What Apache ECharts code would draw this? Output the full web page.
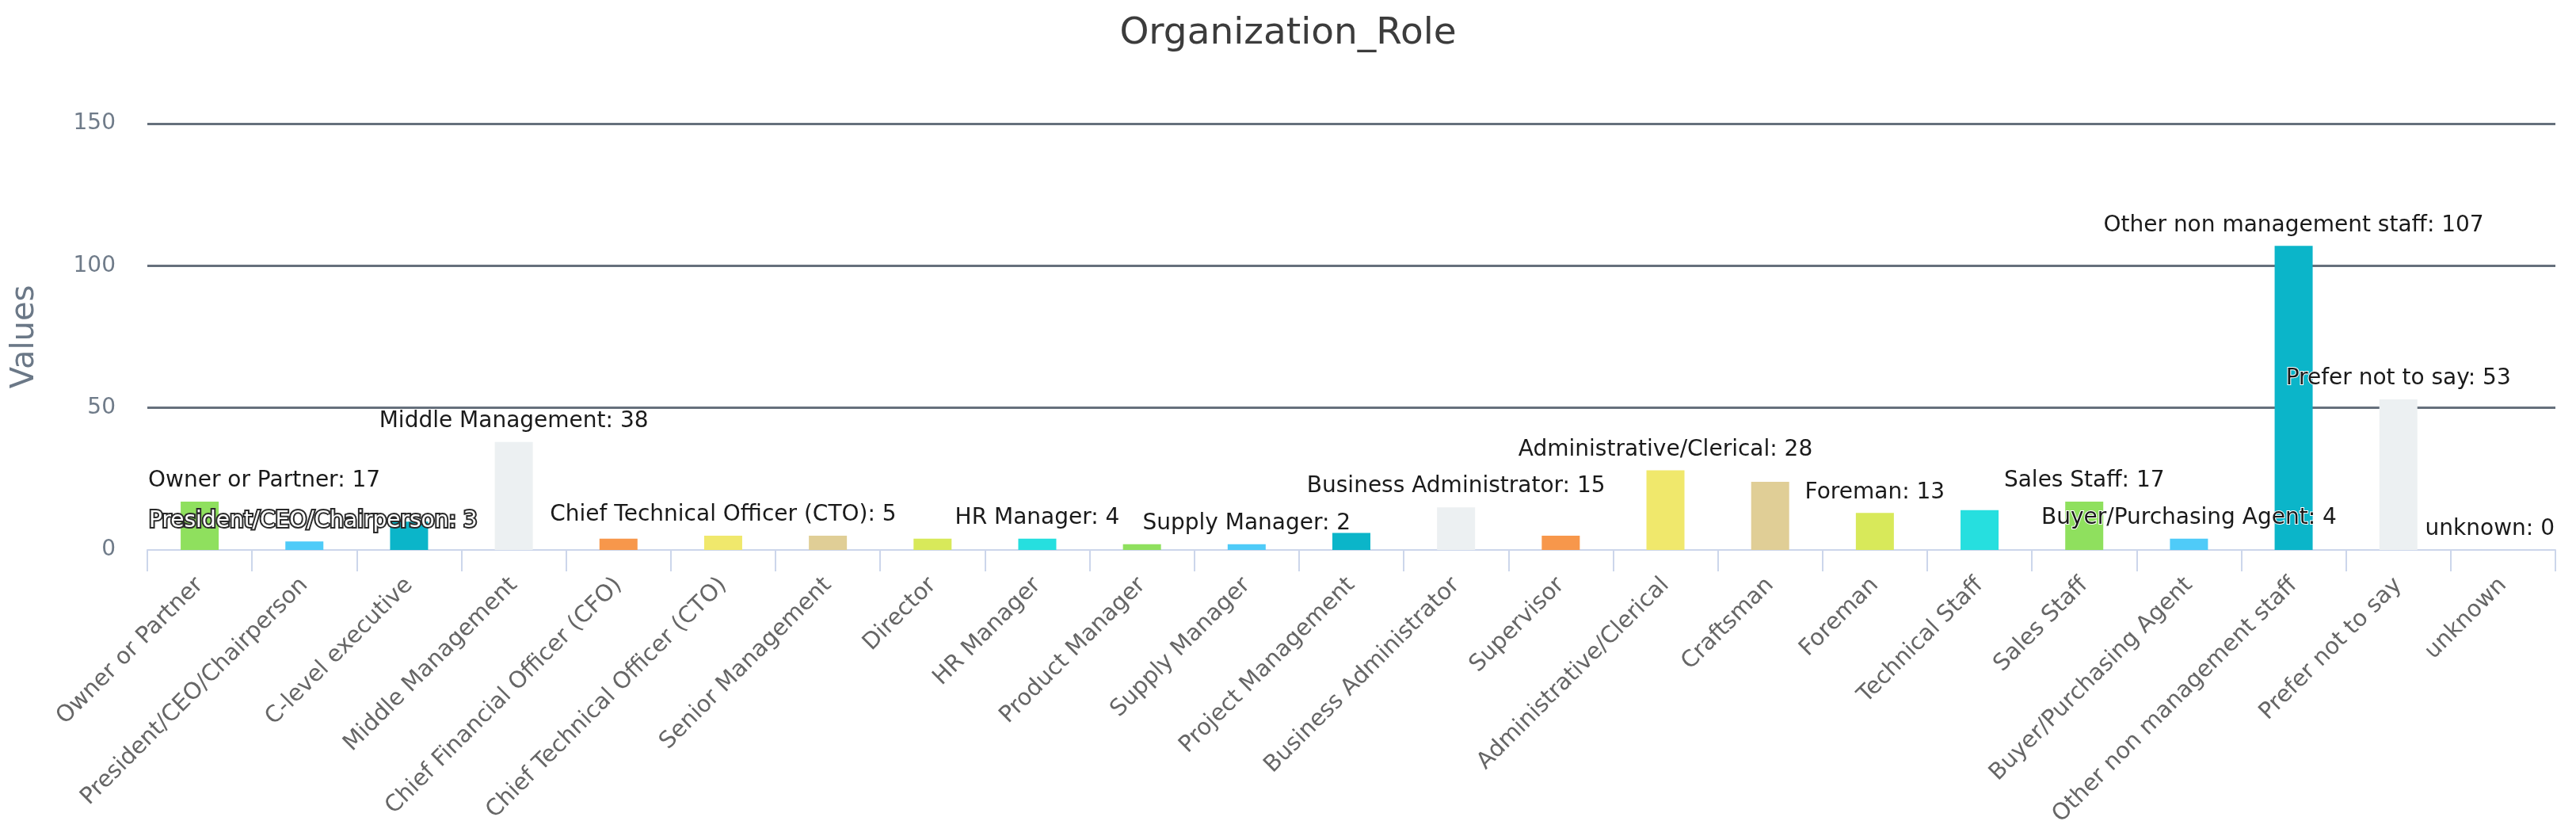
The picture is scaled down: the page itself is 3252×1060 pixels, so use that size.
<!DOCTYPE html>
<html>
<head>
<meta charset="utf-8">
<script src="https://cdn.jsdelivr.net/npm/echarts@6/dist/echarts.min.js"></script>
<style>
html,body{margin:0;padding:0;background:#fff;}
#chart{width:3252px;height:1060px;}
</style>
</head>
<body>
<div id="chart"></div>
<script>
const categories = ['Owner or Partner','President/CEO/Chairperson','C-level executive','Middle Management','Chief Financial Officer (CFO)','Chief Technical Officer (CTO)','Senior Management','Director','HR Manager','Product Manager','Supply Manager','Project Management','Business Administrator','Supervisor','Administrative/Clerical','Craftsman','Foreman','Technical Staff','Sales Staff','Buyer/Purchasing Agent','Other non management staff','Prefer not to say','unknown'];
const values = [17,3,10,38,4,5,5,4,4,2,2,6,15,5,28,24,13,14,17,4,107,53,0];
const yTicks = [0,50,100,150];
const hiddenLabels = ['C-level executive','Chief Financial Officer (CFO)','Senior Management','Director','Product Manager','Project Management','Supervisor','Craftsman','Technical Staff'];
const palette = ['#8fe05e','#4fcbf8','#0bb5c9','#ecf0f2','#f7974b','#f0e86c','#e0ce96','#d8e95a','#26dfdf'];

const chart = echarts.init(document.getElementById('chart'));
const GL = 186, GR = 26, W = 3252;
const data = values.map((v, i) => {
  const item = { value: v, itemStyle: { color: palette[i % palette.length] } };
  if (hiddenLabels.indexOf(categories[i]) >= 0) item.label = { show: false };
  if (categories[i] === 'President/CEO/Chairperson') item.label = { color: '#ffffff', textBorderColor: '#2a2a2a', textBorderWidth: 4 };
  return item;
});
chart.setOption({
  backgroundColor: '#ffffff',
  animation: false,
  title: {
    text: 'Organization_Role', left: 'center', top: 14,
    textStyle: { fontFamily: 'DejaVu Sans', fontSize: 47, fontWeight: 'normal', color: '#3c3c3c' }
  },
  grid: { left: GL, right: GR, top: 156, bottom: 366, containLabel: false },
  xAxis: {
    type: 'category', data: categories,
    axisLine: { lineStyle: { color: '#ccd6eb', width: 2 } },
    axisTick: { show: true, length: 27, lineStyle: { color: '#ccd6eb', width: 2 } },
    axisLabel: { rotate: 45, interval: 0, margin: 40, fontFamily: 'DejaVu Sans', fontSize: 29, color: '#666666' }
  },
  yAxis: {
    type: 'value', min: yTicks[0], max: yTicks[yTicks.length - 1], interval: 50,
    name: 'Values', nameLocation: 'middle', nameGap: 134,
    nameTextStyle: { fontFamily: 'DejaVu Sans', fontSize: 40, color: '#6b7887' },
    axisLine: { show: false }, axisTick: { show: false },
    axisLabel: { margin: 40, fontFamily: 'DejaVu Sans', fontSize: 28, color: '#6f7b89' },
    splitLine: { lineStyle: { color: ['rgba(0,0,0,0)', '#66707c', '#66707c', '#66707c'], width: 3 } }
  },
  series: [{
    type: 'bar', data: data, barWidth: 48,
    label: {
      show: true, position: 'top', distance: 12,
      formatter: p => p.name + ': ' + p.value,
      fontFamily: 'DejaVu Sans', fontSize: 28, color: '#1a1a1a',
      textBorderColor: '#ffffff', textBorderWidth: 2
    },
    labelLayout: function (p) {
      const r = p.labelRect;
      let dx = 0;
      if (r.x < GL) dx = GL - r.x;
      else if (r.x + r.width > W - GR) dx = (W - GR) - (r.x + r.width);
      return { dx: dx };
    }
  }]
});
</script>
</body>
</html>
